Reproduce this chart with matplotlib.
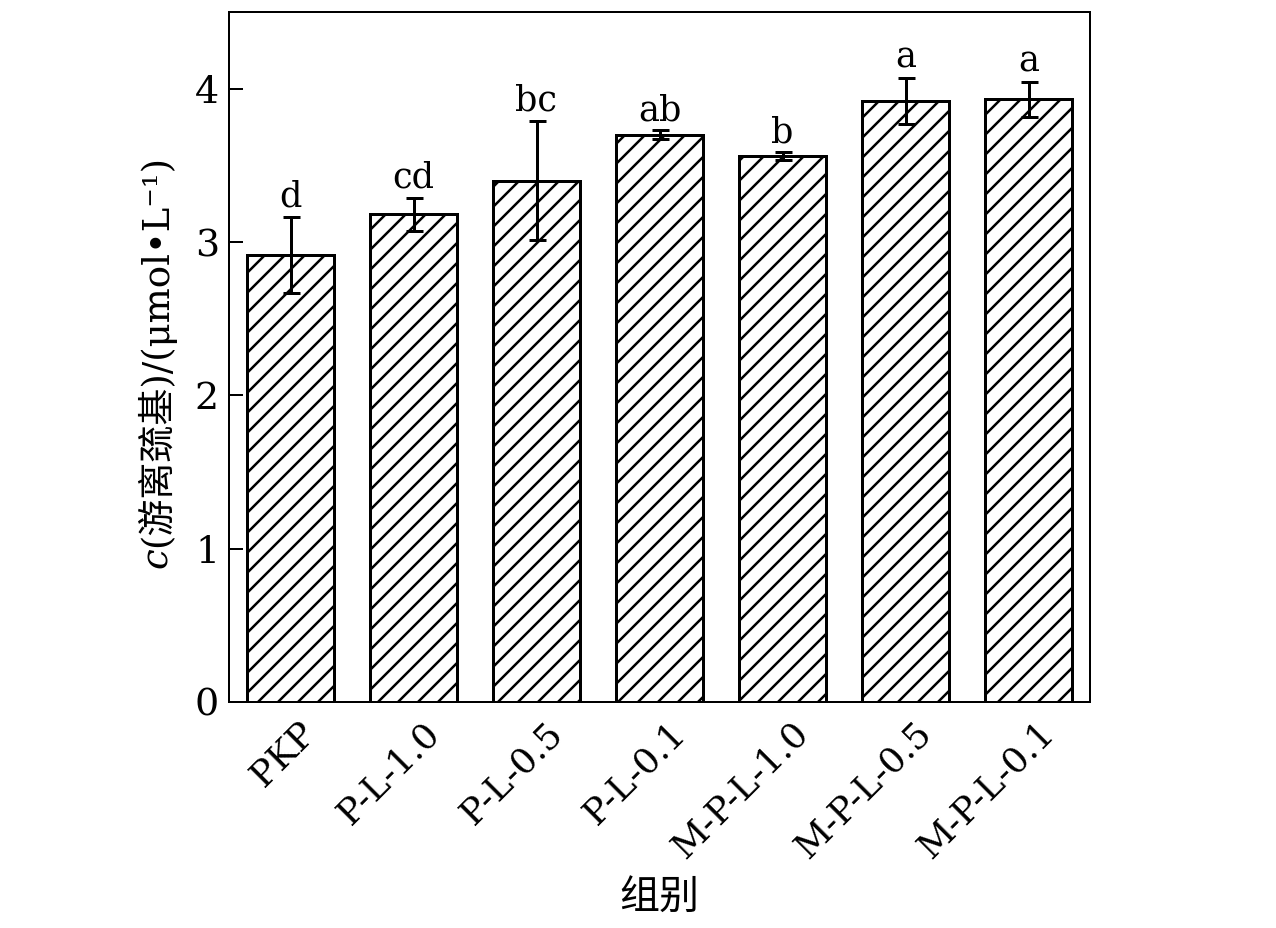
import numpy as np
import matplotlib.pyplot as plt
from matplotlib.transforms import ScaledTranslation

DPI = 120
W, H = 1276, 928


def px(v):
    # pixels -> points at this dpi
    return v * 72.0 / DPI


plt.rcParams['font.family'] = ['DejaVu Serif', 'Noto Sans CJK SC']
plt.rcParams['hatch.linewidth'] = px(2.5)

# Data
groups = ['PKP', 'P-L-1.0', 'P-L-0.5', 'P-L-0.1', 'M-P-L-1.0', 'M-P-L-0.5', 'M-P-L-0.1']
means = [2.915, 3.18, 3.40, 3.70, 3.56, 3.92, 3.93]
errors = [0.25, 0.11, 0.39, 0.03, 0.025, 0.15, 0.115]
letters = ['d', 'cd', 'bc', 'ab', 'b', 'a', 'a']

fig = plt.figure(figsize=(W / DPI, H / DPI), dpi=DPI)
ax = fig.add_axes([229 / W, 1 - 702 / H, (1090 - 229) / W, (702 - 12) / H])

x = np.arange(len(groups))
ax.bar(x, means, width=0.7, color='white', edgecolor='black', linewidth=px(3),
       hatch='//', zorder=2)
ax.errorbar(x, means, yerr=errors, fmt='none', ecolor='black', elinewidth=px(3),
            capsize=px(8.5), capthick=px(3), zorder=3)

for xi, m, e, lab in zip(x, means, errors, letters):
    ax.annotate(lab, (xi, m + e), xytext=(0, px(10)), textcoords='offset points',
                ha='center', va='baseline', fontsize=px(35))

ax.set_xlim(-0.5, 6.5)
ax.set_ylim(0, 4.5)
ax.set_yticks([0, 1, 2, 3, 4])
ax.set_xticks(x)
ax.set_xticklabels(groups, rotation=45, ha='right', va='top',
                   rotation_mode='anchor', fontsize=px(36))
ax.tick_params(axis='y', direction='in', length=px(14), width=px(2),
               labelsize=px(38), pad=px(10))
ax.tick_params(axis='x', length=0, pad=px(14))
shift = ScaledTranslation(px(8) / 72, 0, fig.dpi_scale_trans)
for lbl in ax.get_xticklabels():
    lbl.set_transform(lbl.get_transform() + shift)
for s in ax.spines.values():
    s.set_linewidth(px(2))

# y label: italic c followed by the rest
fig.canvas.draw()
renderer = fig.canvas.get_renderer()
x_base, y_start = 167 / W, 1 - 568 / H
t_c = fig.text(x_base, y_start, 'c', rotation=90, rotation_mode='anchor',
               ha='left', va='baseline', fontsize=px(37), style='italic')
bb = t_c.get_window_extent(renderer)
fig.text(x_base, y_start + bb.height / H, '(游离巯基)/(μmol•L⁻¹)', rotation=90,
         rotation_mode='anchor', ha='left', va='baseline', fontsize=px(37))

fig.text(0.5 * (229 + 1090) / W, 1 - 899 / H, '组别', ha='center', va='center',
         fontsize=px(40))

fig.savefig('out.png', dpi=DPI)
